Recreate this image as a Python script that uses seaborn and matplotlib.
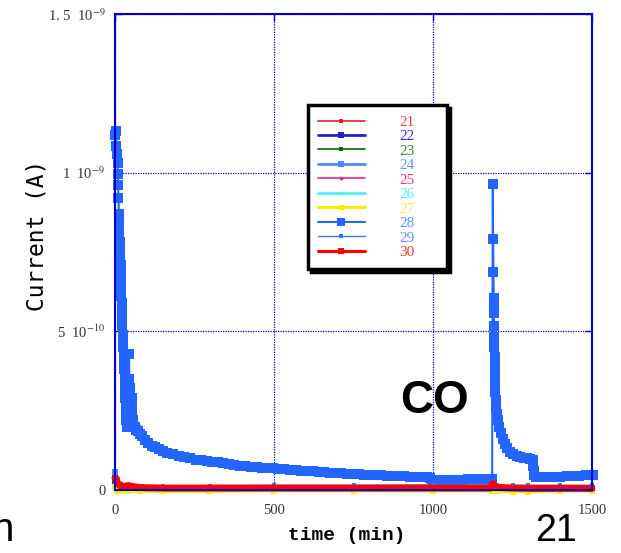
import numpy as np
import pandas as pd
import matplotlib
matplotlib.use("Agg")
import matplotlib.pyplot as plt
from matplotlib.lines import Line2D
import seaborn as sns

sns.set_theme(style="white")
plt.rcParams["font.family"] = ["Liberation Serif", "DejaVu Serif"]
plt.rcParams["mathtext.fontset"] = "stix"
plt.rcParams["text.color"] = "black"

# ---------------- data (currents in units of 1e-10 A) ----------------
SCALE = 1e-10

t28 = [0, 2, 4, 6, 8, 9, 10, 11, 12, 13, 14, 15, 16, 17, 18, 18.5, 19, 19.5, 20, 20.5, 21, 22, 23, 24,
       25, 26, 27, 28, 29, 30, 31, 32, 33, 34, 35, 36, 38, 40, 41, 42, 43, 44, 45, 46, 47, 49, 51, 52, 54,
       55, 58, 62, 67, 72, 78, 85, 94, 104, 115, 126, 138, 151, 165, 183, 200, 218, 236, 255, 272,
       289, 306, 323, 340, 358, 375, 393, 410, 428, 446, 463, 480, 497, 514, 532, 550, 568, 586,
       604, 622, 640, 658, 676, 694, 712, 730, 748, 766, 784, 802, 820, 838, 856, 874, 892, 910,
       928, 946, 964, 982, 992, 998, 1004, 1020, 1038, 1056, 1074, 1092, 1110, 1128, 1146, 1164,
       1180, 1186, 1188, 1189, 1190, 1190.5, 1191, 1191.5, 1192, 1192.5, 1193, 1193.5, 1194,
       1194.5, 1195, 1196, 1197, 1198, 1199, 1201, 1204, 1208, 1213, 1219, 1226, 1234, 1243,
       1253, 1263, 1274, 1285, 1296, 1306, 1313, 1315, 1316, 1317, 1318, 1325, 1340, 1360, 1380,
       1400, 1420, 1440, 1460, 1480, 1500, 1503]
s28 = [11.2, 11.3, 10.85, 10.6, 10.3, 9.97, 9.6, 9.2, 8.7, 8.4, 8.1, 7.8, 7.5, 7.3, 7.1, 6.8, 6.6, 6.3, 6.1, 5.9,
       5.7, 5.4, 5.2, 4.9, 4.7, 4.5, 4.3, 4.0, 3.8, 3.6, 3.4, 3.1, 2.9, 2.6, 2.4, 2.2, 2.0, 2.1, 2.2, 2.6, 3.2,
       4.3, 3.5, 3.2, 2.9, 2.6, 2.8, 2.9, 2.7,
       2.5, 2.2, 2.0, 1.9, 1.85, 1.78, 1.7, 1.57, 1.48, 1.4, 1.35, 1.28, 1.22, 1.18, 1.14, 1.08, 1.04, 1.0, 0.96, 0.93,
       0.91, 0.89, 0.87, 0.85, 0.82, 0.80, 0.77, 0.75, 0.73, 0.72, 0.70, 0.69, 0.69, 0.67, 0.65, 0.63, 0.62, 0.61,
       0.60, 0.59, 0.57, 0.56, 0.54, 0.53, 0.52, 0.51, 0.50, 0.49, 0.48, 0.47, 0.47, 0.46, 0.45, 0.44, 0.43, 0.43,
       0.42, 0.42, 0.42, 0.41, 0.38, 0.32, 0.30, 0.30, 0.31, 0.31, 0.32, 0.33, 0.34, 0.34, 0.35, 0.35,
       0.36, 0.36, 9.65, 7.92, 6.86, 6.04, 5.72, 5.57, 5.16, 4.81, 4.5, 4.2, 3.9,
       3.6, 3.3, 3.1, 2.85, 2.7, 2.6, 2.4, 2.2, 2.0, 1.8, 1.6, 1.45, 1.32, 1.2,
       1.12, 1.08, 1.04, 1.02, 1.0, 0.98, 0.96, 0.9, 0.75, 0.6, 0.47, 0.42, 0.40, 0.40, 0.41,
       0.42, 0.43, 0.44, 0.45, 0.46, 0.47, 0.47]

t30 = [0, 2, 5, 10, 15, 20, 30, 40, 50, 60, 80, 100, 150, 200, 300, 400, 500, 600, 700, 800, 900,
       1000, 1100, 1180, 1188, 1192, 1200, 1250, 1300, 1400, 1500]
s30 = [0.38, 0.35, 0.28, 0.20, 0.15, 0.12, 0.11, 0.14, 0.12, 0.10, 0.08, 0.07, 0.06, 0.06, 0.06, 0.06,
       0.06, 0.06, 0.06, 0.06, 0.06, 0.06, 0.06, 0.06, 0.20, 0.14, 0.08, 0.06, 0.05, 0.05, 0.05]

t_low = [0, 5, 10, 20, 40, 80, 150, 300, 500, 750, 1000, 1185, 1190, 1200, 1250, 1300, 1400, 1500]
s21 = [0.30, 0.20, 0.12, 0.08, 0.06, 0.05, 0.05, 0.04, 0.04, 0.04, 0.04, 0.04, 0.10, 0.06, 0.05, 0.04, 0.04, 0.04]
s22 = [0.20, 0.10, 0.06, 0.04, 0.03, 0.02, 0.02, 0.02, 0.02, 0.02, 0.02, 0.02, 0.05, 0.03, 0.02, 0.02, 0.02, 0.02]
s23 = [0.15, 0.08, 0.05, 0.03, 0.02, 0.01, 0.01, 0.01, 0.01, 0.01, 0.01, 0.01, 0.04, 0.02, 0.01, 0.01, 0.01, 0.01]
s24 = [0.57, 0.30, 0.18, 0.12, 0.10, 0.08, 0.07, 0.06, 0.06, 0.05, 0.05, 0.05, 0.15, 0.08, 0.06, 0.05, 0.05, 0.05]
s25 = [0.12, 0.07, 0.04, 0.03, 0.02, 0.02, 0.02, 0.02, 0.02, 0.02, 0.02, 0.02, 0.05, 0.03, 0.02, 0.02, 0.02, 0.02]
s26 = [0.10, 0.05, 0.03, 0.02, 0.01, 0.00, 0.00, 0.00, 0.00, 0.00, 0.00, 0.00, 0.03, 0.01, 0.00, 0.00, 0.00, 0.00]
s27 = [0.10, 0.00, -0.03, -0.04, -0.04, -0.04, -0.04, -0.04, -0.02, -0.02, -0.02, -0.02, 0.00, -0.04, -0.05, -0.05, -0.02, -0.02]
s29 = [0.25, 0.18, 0.15, 0.14, 0.14, 0.13, 0.13, 0.14, 0.15, 0.15, 0.16, 0.16, 0.20, 0.15, 0.15, 0.15, 0.15, 0.15]

labels = ["21", "22", "23", "24", "25", "26", "27", "28", "29", "30"]

x_ticks = [0, 500, 1000, 1500]
y_ticks = [0, 5e-10, 1e-9, 1.5e-9]
y_ticklabels = ["0", r"5  10$^{-10}$", r"1  10$^{-9}$", r"1. 5  10$^{-9}$"]

# ---------------- styles ----------------
series = {
    "21": (t_low, s21, dict(color="#e82020", lw=1.2, marker="s", ms=3)),
    "22": (t_low, s22, dict(color="#2222cc", lw=2.0, marker="s", ms=4.5)),
    "23": (t_low, s23, dict(color="#006600", lw=1.2, marker="s", ms=2.5)),
    "24": (t_low, s24, dict(color="#4d8cff", lw=2.0, marker="s", ms=4.5)),
    "25": (t_low, s25, dict(color="#ee2288", lw=1.2, marker="o", ms=3)),
    "26": (t_low, s26, dict(color="#55eeff", lw=2.0, marker="^", ms=3)),
    "27": (t_low, s27, dict(color="#ffee00", lw=2.5, marker="s", ms=4)),
    "28": (t28, s28, dict(color="#2266ff", lw=1.5, marker="s", ms=6.5)),
    "29": (t_low, s29, dict(color="#3377ff", lw=1.0, marker="s", ms=3.5)),
    "30": (t30, s30, dict(color="#ff0000", lw=5.0, marker="s", ms=5)),
}
label_colors = ["#e84848", "#3030d8", "#2f8a2f", "#5a96ff", "#ee3388",
                "#55eeff", "#ffee44", "#5a96ff", "#5a96ff", "#ff3030"]

W, H = 621, 553
fig = plt.figure(figsize=(W / 100, H / 100), dpi=100)
ax = fig.add_axes([115 / W, 1 - 490 / H, (592 - 115) / W, (490 - 14) / H])

for name in labels:
    t, v, st = series[name]
    df = pd.DataFrame({"t": t, "I": np.array(v) * SCALE})
    sns.lineplot(data=df, x="t", y="I", ax=ax, estimator=None, sort=False, legend=False,
                 color=st["color"], linewidth=st["lw"], marker=st["marker"],
                 markersize=st["ms"], markeredgewidth=0, clip_on=False)

ax.set_xlim(0, 1500)
ax.set_ylim(0, 1.5e-9)
ax.set_xticks(x_ticks)
ax.set_xticklabels([str(v) for v in x_ticks], fontsize=10.5, color="#333333")
ax.set_yticks(y_ticks)
ax.set_yticklabels(y_ticklabels, fontsize=10.5, color="#333333")
ax.tick_params(direction="in", length=5, width=1, color="#0000cc", top=True, right=True,
               bottom=True, left=True)
ax.tick_params(axis="x", pad=10)
ax.tick_params(axis="y", pad=7)
ax.grid(True, color="#0000cc", linestyle=(0, (1, 1)), linewidth=0.9)
for sp in ax.spines.values():
    sp.set_color("#0000cc")
    sp.set_linewidth(1.5)
ax.set_facecolor("white")

ax.set_xlabel("time (min)", fontsize=14, fontweight="bold", color="black",
              family=["Liberation Mono", "DejaVu Sans Mono"])
ax.xaxis.set_label_coords((347 - 115) / 477, (490 - 527) / 476)
ax.set_ylabel("Current (A)", fontsize=16.5, family=["DejaVu Sans Mono"], color="black")
ax.yaxis.set_label_coords((49 - 115) / 477, (490 - 235) / 476)

# legend
handles = []
for name in labels:
    st = series[name][2]
    handles.append(Line2D([0], [0], color=st["color"], lw=min(st["lw"], 2.2), marker=st["marker"],
                          markersize=st["ms"] * 0.9, markeredgewidth=0))
leg = ax.legend(handles, labels, loc="upper left",
                bbox_to_anchor=((308 - 115) / 477, (490 - 110) / 476, (447 - 308) / 477, 0.01),
                mode="expand", borderaxespad=0, labelcolor=label_colors,
                handlelength=3.05, handletextpad=2.3, labelspacing=0.05, borderpad=0.65,
                frameon=True, fancybox=False, shadow={"color": "black", "alpha": 1.0},
                prop={"family": ["Liberation Serif"], "size": 11})
leg.get_frame().set_edgecolor("black")
leg.get_frame().set_linewidth(2.5)
leg.get_frame().set_facecolor("white")
leg.get_frame().set_alpha(1)

fig.text(400 / W, 1 - 413 / H, "CO", fontsize=33, fontweight="bold", color="black",
         family=["Liberation Sans"], va="baseline", ha="left")
fig.text(535 / W, 1 - 541 / H, "21", fontsize=27, color="black",
         family=["Liberation Sans"], va="baseline", ha="left")
fig.text(-9 / W, 1 - 541 / H, "n", fontsize=29, color="black",
         family=["Liberation Sans"], va="baseline", ha="left")

fig.savefig("out.png", dpi=100)
